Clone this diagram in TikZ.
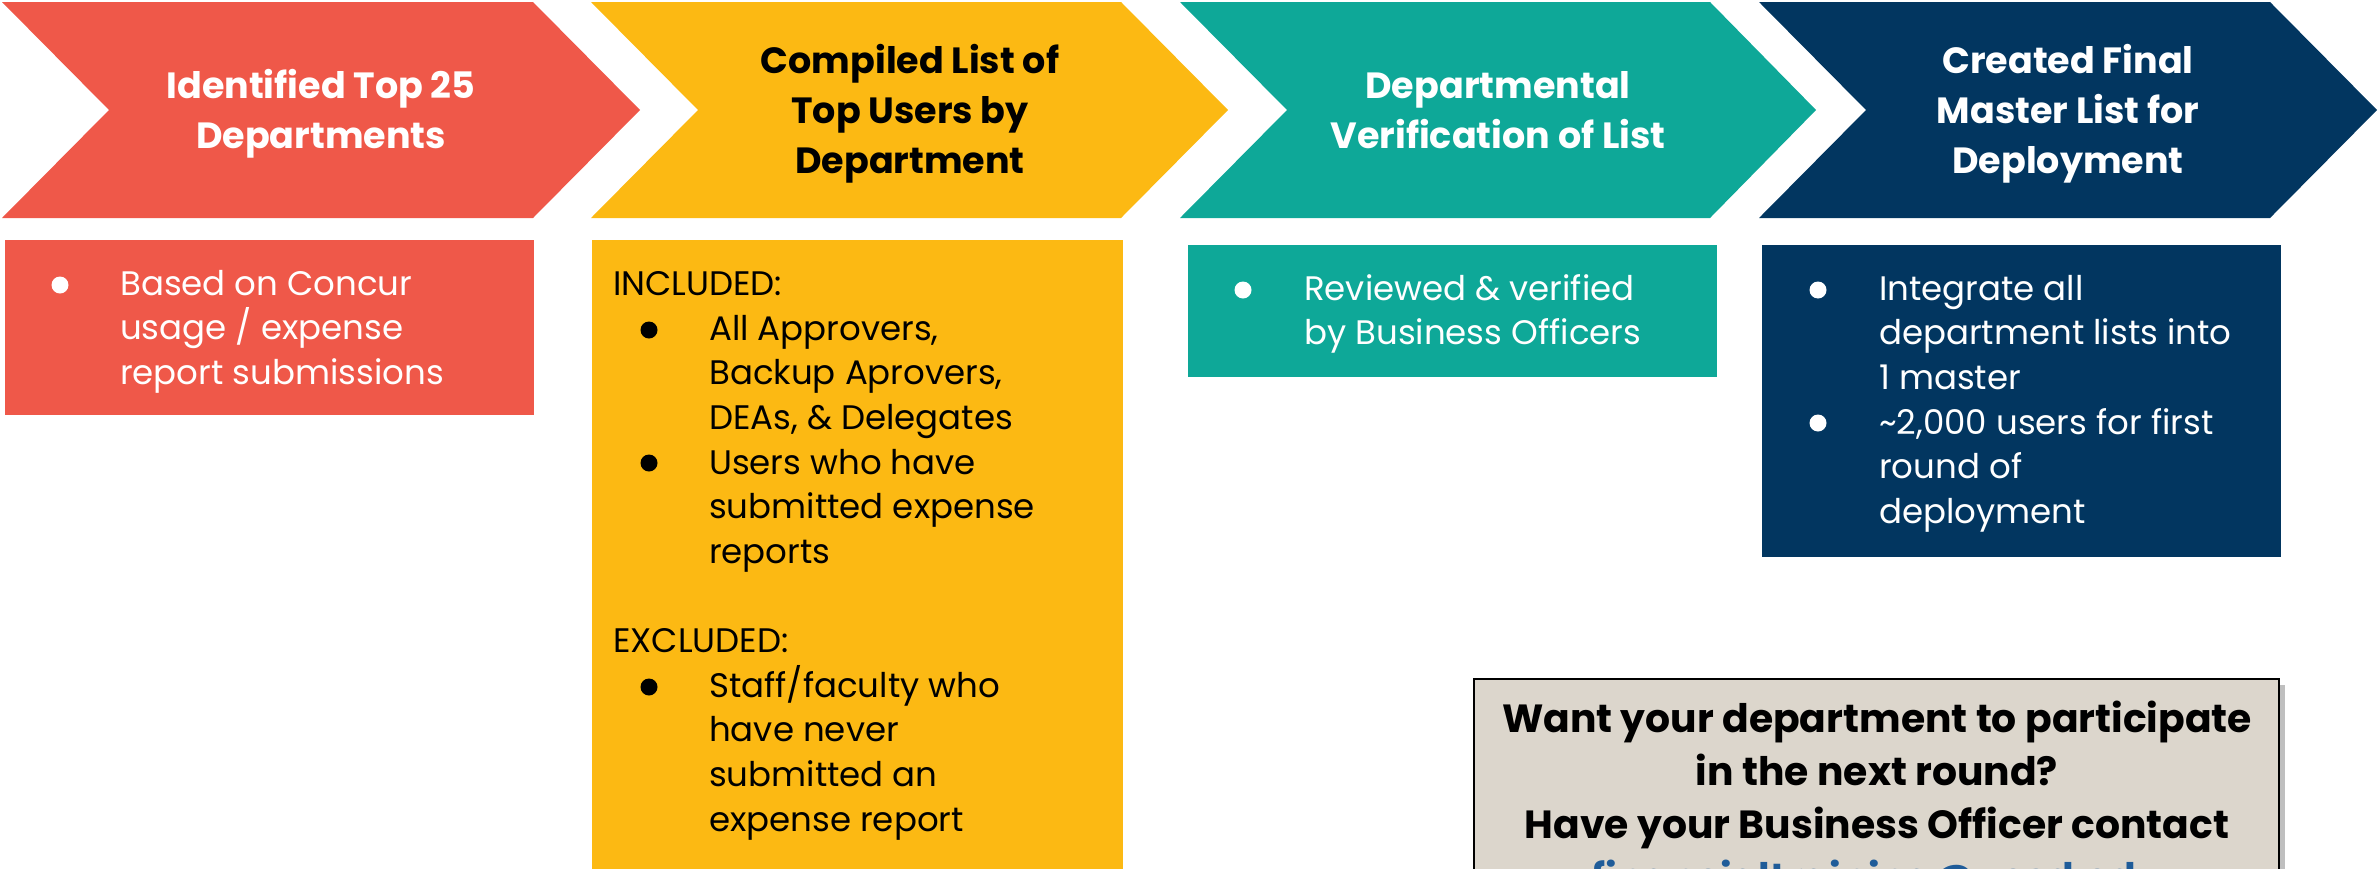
\documentclass[tikz,border=0pt]{standalone}
\usepackage{fontspec}
\setmainfont{Poppins}
\definecolor{cRed}{RGB}{239,88,73}
\definecolor{cYel}{RGB}{252,185,19}
\definecolor{cTeal}{RGB}{14,168,152}
\definecolor{cNavy}{RGB}{2,54,96}
\definecolor{cGrey}{RGB}{220,214,204}
\definecolor{cMail}{RGB}{31,92,153}
\begin{document}
\begin{tikzpicture}[x=1pt,y=-1pt,
  hdr/.style={font=\fontsize{36.5}{50}\selectfont\bfseries, align=center, inner sep=0, anchor=base},
  body/.style={font=\fontsize{34}{44.7}\selectfont, align=left, inner sep=0, anchor=base west},
  grey/.style={font=\fontsize{39.3}{53}\selectfont\bfseries, align=center, inner sep=0, anchor=base}]
\useasboundingbox (0,0) rectangle (2379,868);
\clip (0,0) rectangle (2379,868);
% chevrons
\fill[cRed]  (2,2) -- (533,2) -- (640,110) -- (533,218) -- (2,218) -- (109,110) -- cycle;
\fill[cYel]  (591,2) -- (1121,2) -- (1228,110) -- (1121,218) -- (591,218) -- (698,110) -- cycle;
\fill[cTeal] (1180,2) -- (1710,2) -- (1816,110) -- (1710,218) -- (1180,218) -- (1287,110) -- cycle;
\fill[cNavy] (1759,2) -- (2270,2) -- (2377,110) -- (2270,218) -- (1759,218) -- (1866,110) -- cycle;
% headers (anchor = baseline of last line)
\node[hdr, text=white] (h1) at (321,148) {Identified Top 25\\Departments};
\node[hdr, text=black] (h2) at (910,173) {Compiled List of\\Top Users by\\Department};
\node[hdr, text=white] (h3) at (1498,148) {Departmental\\Verification of List};
\node[hdr, text=white] (h4) at (2068,173) {Created Final\\Master List for\\Deployment};
% boxes
\fill[cRed]  (5,240) rectangle (534,415);
\fill[cYel]  (592,240) rectangle (1123,900);
\fill[cTeal] (1188,245) rectangle (1717,377);
\fill[cNavy] (1762,245) rectangle (2281,557);
% red box text
\fill[white] (60,285) circle (8.5);
\node[body, text=white] (t1) at (120,384.4) {Based on Concur\\usage / expense\\report submissions};
% yellow box text
\node[body] (inc) at (613,295) {INCLUDED:};
\fill[black] (649,330) circle (8.5);
\fill[black] (649,463) circle (8.5);
\node[body] (t2a) at (709,563.5) {All Approvers,\\Backup Aprovers,\\DEAs, \& Delegates\\Users who have\\submitted expense\\reports};
\node[body] (exc) at (613,652) {EXCLUDED:};
\fill[black] (649,687) circle (8.5);
\node[body] (t2b) at (709,831.1) {Staff/faculty who\\have never\\submitted an\\expense report};
% teal box text
\fill[white] (1243,290) circle (8.5);
\node[body, text=white] (t3) at (1304,344.7) {Reviewed \& verified\\by Business Officers};
% navy box text
\fill[white] (1818,290) circle (8.5);
\fill[white] (1818,423) circle (8.5);
\node[body, text=white] (t4) at (1879,523.5) {Integrate all\\department lists into\\1 master\\\textasciitilde 2,000 users for first\\round of\\deployment};
% grey box
\fill[black!25] (1480,685) rectangle (2285,900);
\filldraw[fill=cGrey, draw=black, line width=2pt] (1474,679) rectangle (2279,900);
\node[grey] (q) at (1877,891) {Want your department to participate\\in the next round?\\Have your Business Officer contact\\{\color{cMail}financialtraining@ucsd.edu}};
\end{tikzpicture}
\end{document}
